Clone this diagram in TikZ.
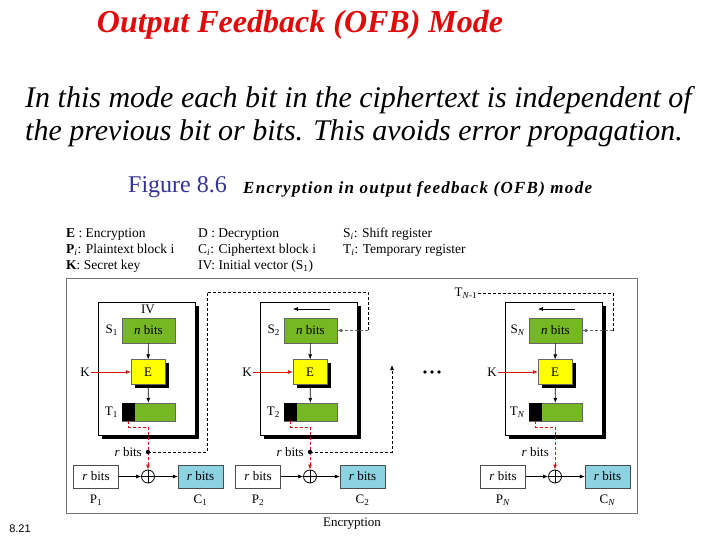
\documentclass[tikz,border=0pt]{standalone}
\usepackage{fontspec}
\setmainfont{Liberation Serif}
\newfontfamily\slidenum{Liberation Sans}
\usetikzlibrary{arrows.meta, shadows}

\definecolor{titlered}{RGB}{224,10,10}
\definecolor{figblue}{RGB}{51,51,153}
\definecolor{reggreen}{RGB}{118,184,36}
\definecolor{encyellow}{RGB}{255,255,0}
\definecolor{cipherblue}{RGB}{140,210,225}
\definecolor{keyred}{RGB}{215,20,20}

\tikzset{
  legend/.style={anchor=west, inner sep=0pt, font=\fontsize{13.5}{15}\selectfont},
  lbl/.style={inner sep=1pt, font=\fontsize{13}{15}\selectfont},
  blackshadow/.style={drop shadow={shadow xshift=3.5pt, shadow yshift=-3.5pt,
    fill=black, opacity=1}},
  stagebox/.style={draw, fill=white, line width=0.8pt, minimum width=97pt,
    minimum height=133pt, drop shadow={shadow xshift=4pt, shadow yshift=-4pt,
    fill=black, opacity=1}},
  nreg/.style={draw=black!60, fill=reggreen, minimum width=53pt, minimum height=25pt,
    inner sep=0pt, font=\fontsize{13}{15}\selectfont},
  encbox/.style={draw=black!60, fill=encyellow, minimum width=34pt, minimum height=25pt,
    inner sep=0pt, font=\fontsize{13}{15}\selectfont, blackshadow},
  tbar/.style={draw=black!60, fill=reggreen, minimum width=53pt, minimum height=18pt,
    inner sep=0pt},
  tcut/.style={fill=black, minimum width=13pt, minimum height=18pt, inner sep=0pt},
  rblock/.style={draw=black!70, minimum width=45pt, minimum height=23pt, inner sep=0pt,
    font=\fontsize{13}{15}\selectfont},
  xorop/.style={circle, draw, line width=0.8pt, minimum size=13pt, inner sep=0pt,
    path picture={\draw[line width=0.8pt]
      (path picture bounding box.north) -- (path picture bounding box.south)
      (path picture bounding box.west) -- (path picture bounding box.east);}},
  flow/.style={-{Latex[length=5pt, width=4pt]}, line width=0.6pt},
  keyflow/.style={flow, keyred},
  tap/.style={keyred, line width=0.9pt, dash pattern=on 3pt off 2pt},
  feedback/.style={line width=0.7pt, dash pattern=on 3pt off 2pt},
}

\begin{document}
\begin{tikzpicture}[x=1pt, y=-1pt]
  \useasboundingbox (0,0) rectangle (720,540);

  % slide text
  \node[titlered, font=\fontsize{32}{34}\selectfont\bfseries\itshape] (title)
    at (300,25) {Output Feedback (OFB) Mode};
  \node[anchor=west, inner sep=0pt, font=\fontsize{30}{32}\selectfont\itshape] (line1)
    at (25,100) {In this mode each bit in the ciphertext is independent of};
  \node[anchor=west, inner sep=0pt, font=\fontsize{30}{32}\selectfont\itshape] (line2)
    at (25,133) {the previous bit or bits. This avoids error propagation.};
  \node[anchor=west, inner sep=0pt, figblue, font=\fontsize{24}{26}\selectfont] (fig)
    at (128,187) {Figure 8.6};
  \node[anchor=west, inner sep=0pt, font=\fontsize{17}{19}\selectfont\bfseries\itshape
    \addfontfeature{LetterSpace=7.5}] (figcap)
    at (243,189) {Encryption in output feedback (OFB) mode};

  % legend
  \node[legend] (lgE) at (66,234) {\textbf{E} : Encryption};
  \node[legend] (lgP) at (66,250) {\textbf{P}\textsubscript{\textit{i}}: Plaintext block i};
  \node[legend] (lgK) at (66,266) {\textbf{K}: Secret key};
  \node[legend] (lgD) at (198,234) {D : Decryption};
  \node[legend] (lgC) at (198,250) {C\textsubscript{\textit{i}}: Ciphertext block i};
  \node[legend] (lgIV) at (198,266) {IV: Initial vector (S\textsubscript{1})};
  \node[legend] (lgS) at (343,234) {S\textsubscript{\textit{i}}: Shift register};
  \node[legend] (lgT) at (343,250) {T\textsubscript{\textit{i}}: Temporary register};

  \draw[black!55, line width=0.8pt] (66,278) rectangle (637,513);

  % one stage per block
  \foreach \dx/\i/\sub in {0/1/1, 162/2/2, 407/N/{\textit{N}}} {
    \begin{scope}[xshift=\dx]
      \node[stagebox] (box\i) at (146.5,368.5) {};
      \node[nreg] (s\i) at (148.5,330.5) {\textit{n} bits};
      \node[encbox] (e\i) at (148,372) {E};
      \node[tbar] (t\i) at (148.5,412) {};
      \node[tcut, anchor=west] (tc\i) at (t\i.west) {};
      \node[lbl, anchor=east] (sl\i) at (119,330.5) {S\textsubscript{\sub}};
      \node[lbl, anchor=east] (tl\i) at (119,412) {T\textsubscript{\sub}};
      \node[lbl] (k\i) at (85,372) {K};
      \coordinate (shl\i) at (131,309);
      \coordinate (shr\i) at (168,309);
      \coordinate (dot\i) at (148,452);
      \node[lbl, anchor=east] (r\i) at (143,452) {\textit{r} bits};
      \node[rblock] (p\i) at (96,476.5) {\textit{r} bits};
      \node[xorop] (x\i) at (148,476.5) {};
      \node[rblock, fill=cipherblue] (c\i) at (200.5,476.5) {\textit{r} bits};
      \node[lbl] (pl\i) at (96,500) {P\textsubscript{\sub}};
      \node[lbl] (cl\i) at (200.5,500) {C\textsubscript{\sub}};

      \draw[flow] (s\i) -- (e\i);
      \draw[flow] (e\i) -- (t\i);
      \draw[keyflow] (k\i) -- (e\i);
      \draw[tap] (tc\i.south) -- ++(0,6) -| (dot\i);
      \draw[tap, -{Latex[length=5pt, width=4pt]}] (dot\i) -- (x\i);
      \draw[flow] (p\i) -- (x\i);
      \draw[flow] (x\i) -- (c\i);
    \end{scope}
  }

  \node[lbl] (iv) at (148,309) {IV};
  \draw[flow] (shr2) -- (shl2);
  \draw[flow] (shrN) -- (shlN);

  % feedback paths
  \fill (dot1) circle (2.2pt);
  \fill (dot2) circle (2.2pt);
  \coordinate (fb2) at (368,330.5);
  \draw[feedback] (dot1) -| (207,292) -| (fb2);
  \draw[feedback, black!60, -{Latex[length=5pt, width=4pt]}] (fb2) -- (s2);
  \coordinate (up2) at (392,365);
  \draw[feedback, -{Latex[length=5pt, width=4pt]}] (dot2) -| (up2);
  \node[lbl] (tprev) at (466,293) {T\textsubscript{\textit{N}-1}};
  \coordinate (fbN) at (613,330.5);
  \draw[feedback] (tprev) -| (fbN);
  \draw[feedback, black!60, -{Latex[length=5pt, width=4pt]}] (fbN) -- (sN);

  \foreach \d in {425,432,439}
    \fill (\d,372) circle (1.9pt);

  \node[lbl] (enc) at (352,524) {Encryption};
  \node[font=\slidenum\fontsize{11}{13}\selectfont] (pg) at (20,529) {8.21};
\end{tikzpicture}
\end{document}
